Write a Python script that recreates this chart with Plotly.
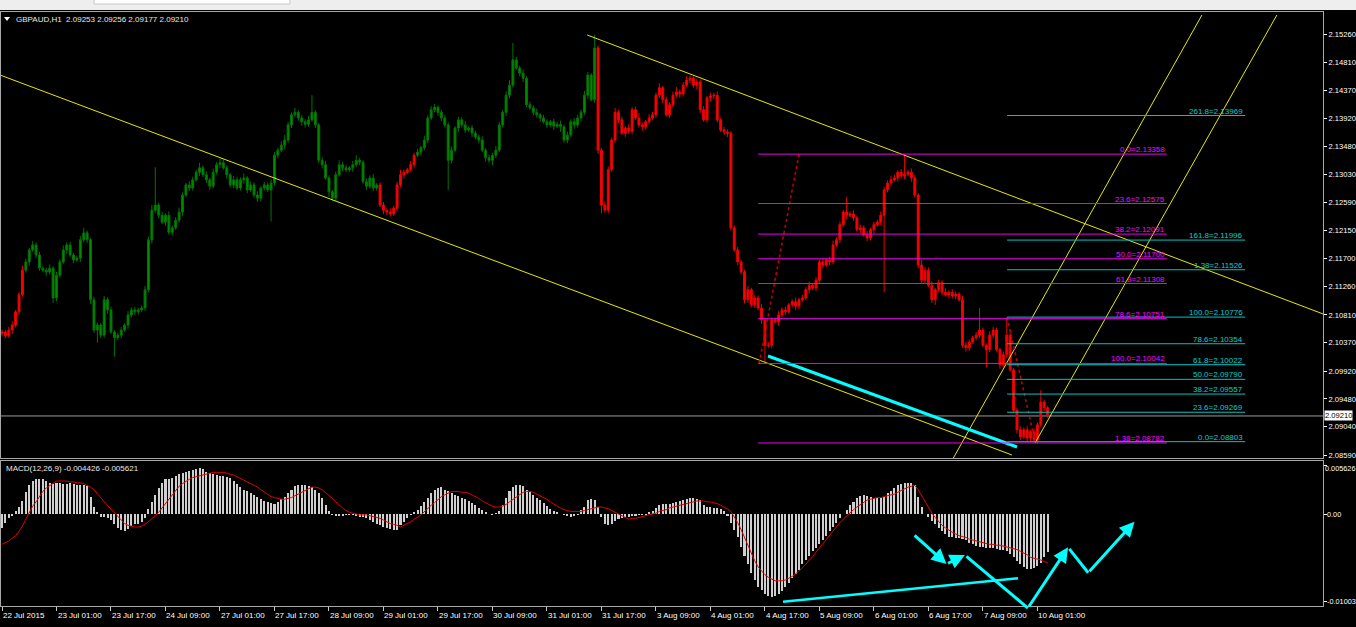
import plotly.graph_objects as go

# ---------------- DATA ----------------
symbol_header = "GBPAUD,H1  2.09253 2.09256 2.09177 2.09210"
macd_header = "MACD(12,26,9) -0.004426 -0.005621"

first_open = 2.1052
closes = [
    2.1054, 2.1048, 2.1057, 2.1065, 2.1086, 2.1113, 2.1152, 2.1165, 2.1184, 2.1192,
    2.1176, 2.1155, 2.1152, 2.1149, 2.1155, 2.1108, 2.1144, 2.1165, 2.1184, 2.1192,
    2.1176, 2.1168, 2.1171, 2.1200, 2.1211, 2.1200, 2.1105, 2.1057, 2.1065, 2.1049,
    2.1105, 2.1089, 2.1054, 2.1045, 2.1049, 2.1057, 2.1065, 2.1081, 2.1089, 2.1086,
    2.1089, 2.1092, 2.1121, 2.1200, 2.1247, 2.1255, 2.1239, 2.1228, 2.1239, 2.1212,
    2.1219, 2.1231, 2.1244, 2.1271, 2.1287, 2.1282, 2.1295, 2.1307, 2.1314, 2.1303,
    2.1295, 2.1285, 2.1307, 2.1319, 2.1322, 2.1314, 2.1303, 2.1287, 2.1295, 2.1282,
    2.1295, 2.1298, 2.1279, 2.1287, 2.1271, 2.1266, 2.1282, 2.1287, 2.1279, 2.1290,
    2.1334, 2.1342, 2.1350, 2.1358, 2.1382, 2.1398, 2.1402, 2.1393, 2.1387, 2.1383,
    2.1390, 2.1402, 2.1382, 2.1326, 2.1319, 2.1298, 2.1276, 2.1266, 2.1303, 2.1319,
    2.1314, 2.1311, 2.1314, 2.1319, 2.1326, 2.1323, 2.1292, 2.1285, 2.1298, 2.1282,
    2.1287, 2.1255, 2.1247, 2.1244, 2.1241, 2.1250, 2.1287, 2.1303, 2.1307, 2.1311,
    2.1319, 2.1334, 2.1339, 2.1346, 2.1358, 2.1393, 2.1406, 2.1410, 2.1402, 2.1393,
    2.1382, 2.1326, 2.1342, 2.1377, 2.1390, 2.1382, 2.1374, 2.1377, 2.1369, 2.1363,
    2.1358, 2.1342, 2.1330, 2.1326, 2.1334, 2.1342, 2.1382, 2.1402, 2.1429, 2.1445,
    2.1485, 2.1472, 2.1464, 2.1456, 2.1414, 2.1409, 2.1402, 2.1398, 2.1393, 2.1387,
    2.1382, 2.1387, 2.1380, 2.1383, 2.1379, 2.1358, 2.1366, 2.1387, 2.1382, 2.1393,
    2.1402, 2.1429, 2.1461, 2.1422, 2.1504, 2.1342, 2.1255, 2.1247, 2.1311, 2.1358,
    2.1402, 2.1390, 2.1369, 2.1377, 2.1372, 2.1406, 2.1393, 2.1382, 2.1379, 2.1387,
    2.1393, 2.1398, 2.1429, 2.1441, 2.1422, 2.1398, 2.1414, 2.1429, 2.1434, 2.1431,
    2.1445, 2.1453, 2.1456, 2.1445, 2.1450, 2.1406, 2.1390, 2.1425, 2.1428, 2.1429,
    2.1390, 2.1374, 2.1371, 2.1369, 2.1219, 2.1184, 2.1165, 2.1149, 2.1105, 2.1121,
    2.1097, 2.1108, 2.1092, 2.1073, 2.1033, 2.1033, 2.1073, 2.1070, 2.1081, 2.1089,
    2.1086, 2.1097, 2.1102, 2.1095, 2.1105, 2.1108, 2.1121, 2.1128, 2.1124, 2.1136,
    2.1165, 2.1160, 2.1168, 2.1165, 2.1192, 2.1200, 2.1224, 2.1244, 2.1239, 2.1241,
    2.1235, 2.1216, 2.1219, 2.1208, 2.1203, 2.1216, 2.1224, 2.1228, 2.1239, 2.1279,
    2.1290, 2.1295, 2.1298, 2.1307, 2.1301, 2.1304, 2.1307, 2.1298, 2.1271, 2.1160,
    2.1136, 2.1152, 2.1128, 2.1105, 2.1121, 2.1132, 2.1117, 2.1113, 2.1117, 2.1111,
    2.1114, 2.1105, 2.1033, 2.1029, 2.1038, 2.1045, 2.1049, 2.1057, 2.1033, 2.1026,
    2.1049, 2.1057, 2.1026, 2.1002, 2.1018, 2.1049, 2.0994, 2.0930, 2.0899, 2.0888,
    2.0899, 2.0886, 2.0896, 2.0883, 2.0907, 2.0943, 2.0934, 2.0921,
]
# upper / lower wick lengths beyond the body, in pips (0.0001)
wick_up_pips = [
    4, 3, 5, 6, 3, 4, 7, 5, 3, 6, 4, 5, 3, 4, 6, 3, 5, 4, 7, 4,
    5, 3, 4, 6, 8, 4, 3, 5, 4, 3, 6, 4, 5, 3, 4, 5, 3, 6, 4, 5,
    3, 4, 6, 5, 8, 60, 4, 5, 3, 6, 4, 5, 7, 4, 3, 6, 5, 4, 8, 4,
    5, 3, 6, 4, 7, 5, 4, 3, 6, 5, 4, 7, 3, 5, 4, 6, 3, 5, 4, 6,
    5, 4, 6, 8, 5, 4, 7, 3, 5, 4, 6, 27, 4, 3, 5, 6, 4, 3, 5, 7,
    4, 5, 3, 6, 8, 4, 3, 5, 4, 6, 3, 4, 5, 3, 6, 4, 5, 8, 4, 3,
    6, 4, 5, 3, 7, 4, 6, 5, 3, 4, 5, 4, 6, 3, 5, 4, 6, 3, 5, 4,
    4, 6, 3, 5, 4, 7, 5, 4, 6, 8, 27, 5, 4, 6, 3, 5, 4, 6, 3, 5,
    4, 3, 5, 4, 6, 3, 5, 4, 6, 5, 4, 7, 5, 3, 21, 4, 3, 6, 5, 4,
    7, 4, 5, 3, 6, 4, 5, 8, 4, 3, 6, 5, 4, 7, 3, 5, 4, 6, 8, 4,
    5, 6, 4, 3, 5, 4, 6, 3, 5, 4, 6, 3, 5, 4, 3, 4, 5, 3, 4, 6,
    3, 5, 4, 6, 3, 5, 4, 3, 6, 4, 5, 3, 4, 6, 3, 5, 4, 6, 3, 5,
    4, 6, 3, 5, 7, 4, 5, 3, 24, 4, 6, 3, 5, 4, 6, 3, 5, 4, 6, 5,
    4, 6, 5, 3, 5, 32, 4, 6, 5, 3, 8, 5, 4, 6, 3, 5, 4, 6, 3, 5,
    4, 3, 6, 5, 4, 3, 5, 35, 4, 3, 6, 5, 4, 3, 5, 28, 6, 3, 4, 5,
    4, 6, 3, 5, 4, 19, 4, 3,
]
wick_dn_pips = [
    5, 4, 3, 6, 4, 5, 3, 4, 6, 3, 5, 4, 3, 6, 4, 8, 5, 4, 3, 6,
    4, 5, 3, 6, 4, 5, 7, 4, 20, 5, 4, 6, 3, 30, 4, 5, 3, 6, 4, 5,
    4, 3, 5, 4, 6, 4, 5, 3, 6, 4, 5, 3, 4, 6, 3, 5, 4, 3, 6, 4,
    5, 6, 3, 4, 5, 3, 6, 4, 5, 3, 4, 6, 5, 3, 4, 6, 5, 4, 3, 50,
    4, 5, 3, 6, 4, 5, 3, 4, 6, 5, 4, 3, 5, 4, 6, 3, 8, 4, 5, 3,
    5, 4, 3, 6, 4, 5, 3, 6, 4, 5, 4, 3, 6, 5, 4, 3, 5, 4, 6, 3,
    4, 5, 3, 6, 4, 5, 3, 4, 6, 5, 4, 47, 5, 3, 6, 4, 5, 3, 6, 4,
    5, 3, 6, 4, 8, 5, 3, 4, 6, 5, 4, 3, 5, 6, 4, 3, 5, 4, 6, 3,
    5, 4, 6, 3, 8, 4, 5, 3, 6, 4, 5, 4, 6, 3, 5, 6, 13, 4, 5, 3,
    4, 5, 3, 6, 4, 5, 3, 4, 6, 5, 4, 3, 5, 4, 6, 3, 5, 4, 3, 6,
    4, 3, 5, 4, 6, 5, 3, 4, 6, 5, 4, 3, 5, 6, 4, 3, 5, 4, 6, 5,
    4, 5, 3, 6, 27, 4, 5, 3, 6, 4, 5, 3, 4, 6, 5, 3, 4, 6, 3, 5,
    4, 5, 3, 6, 4, 3, 5, 4, 6, 3, 5, 4, 6, 3, 5, 4, 6, 3, 5, 122,
    4, 5, 3, 6, 4, 5, 3, 6, 4, 5, 4, 6, 3, 5, 8, 4, 5, 3, 6, 4,
    5, 3, 4, 6, 5, 3, 4, 5, 3, 28, 4, 5, 3, 6, 4, 5, 3, 4, 6, 5,
    4, 6, 5, 3, 6, 4, 5, 3,
]
# MACD main (histogram) and signal, in units of 0.0001
macd_hist_e4 = [
    -16, -10, -5, -2, 3, 8, 15, 25, 33, 38, 40, 40, 40, 38, 36, 35, 36, 36, 35, 35,
    36, 35, 34, 34, 33, 32, 20, 8, 2, -3, -4, -5, -7, -12, -16, -19, -20, -17, -14, -12,
    -11, -9, -5, 6, 14, 22, 30, 36, 40, 40, 41, 44, 46, 47, 49, 50, 51, 52, 53, 52,
    49, 47, 46, 45, 44, 44, 43, 41, 38, 35, 31, 28, 26, 24, 22, 20, 17, 15, 14, 13,
    12, 14, 17, 20, 24, 28, 32, 34, 34, 33, 32, 31, 28, 24, 18, 10, 3, -1, -2, -2,
    -2, -1, -1, -1, -2, -3, -4, -5, -7, -9, -11, -13, -15, -16, -17, -18, -18, -13, -9, -5,
    -1, 2, 5, 9, 14, 19, 24, 28, 30, 31, 28, 26, 24, 22, 21, 19, 17, 15, 13, 10,
    7, 5, 2, 0, -1, 1, 4, 10, 18, 26, 31, 33, 33, 32, 28, 25, 22, 19, 16, 13,
    9, 6, 4, 2, 0, -1, -2, -3, -2, -1, 5, 8, 16, 17, 16, 8, -4, -12, -13, -11,
    -8, -6, -5, -3, -3, -2, -2, -1, -1, -1, 2, 4, 7, 10, 11, 12, 12, 13, 14, 15,
    16, 17, 18, 19, 17, 16, 10, 8, 8, 7, 7, 6, 3, -2, -10, -18, -27, -38, -48, -58,
    -68, -76, -84, -88, -92, -95, -96, -94, -92, -89, -84, -79, -74, -69, -64, -58, -53, -48, -43, -39,
    -35, -30, -25, -20, -15, -10, -5, 0, 5, 10, 14, 18, 21, 22, 21, 20, 19, 19, 19, 20,
    24, 27, 30, 33, 35, 36, 36, 36, 33, 20, 8, 0, -4, -8, -12, -16, -20, -23, -26, -27,
    -28, -28, -29, -30, -33, -35, -37, -38, -38, -39, -39, -39, -40, -41, -42, -43, -46, -50, -54, -58,
    -61, -63, -63, -62, -60, -56, -50, -44,
]
macd_signal_e4 = [
    -35, -33, -31, -28, -25, -20, -14, -6, 2, 9, 14, 20, 26, 30, 33, 36, 38, 38, 38, 38,
    37, 37, 36, 36, 35, 33, 31, 28, 24, 19, 14, 10, 5, 1, -3, -7, -11, -13, -14, -15,
    -15, -14, -12, -9, -6, -2, 2, 7, 12, 18, 23, 28, 32, 35, 38, 40, 42, 43, 44, 45,
    46, 47, 48, 48, 48, 48, 47, 46, 45, 43, 41, 39, 37, 35, 33, 31, 28, 25, 22, 20,
    19, 18, 17, 17, 18, 19, 21, 23, 25, 27, 29, 31, 31, 30, 28, 25, 21, 18, 14, 10,
    7, 4, 2, 1, 0, -1, -1, -1, -2, -3, -4, -5, -7, -9, -11, -12, -13, -15, -13, -11,
    -9, -6, -4, -1, 3, 7, 10, 13, 17, 20, 22, 24, 26, 26, 26, 25, 25, 24, 22, 20,
    18, 15, 13, 11, 9, 8, 8, 9, 11, 14, 17, 20, 23, 25, 26, 26, 25, 23, 21, 19,
    17, 14, 11, 9, 7, 5, 4, 3, 3, 3, 3, 4, 5, 6, 7, 8, 8, 7, 6, 4,
    2, 0, -2, -4, -6, -5, -5, -4, -3, -2, -1, 0, 1, 3, 4, 5, 7, 8, 9, 10,
    11, 12, 13, 14, 15, 15, 15, 14, 14, 13, 12, 10, 8, 6, 3, -3, -10, -18, -27, -37,
    -46, -54, -61, -66, -70, -73, -75, -77, -77, -77, -76, -74, -72, -69, -66, -62, -58, -54, -49, -44,
    -39, -34, -29, -24, -19, -15, -10, -6, -2, 2, 5, 8, 11, 14, 16, 17, 18, 19, 19, 20,
    21, 22, 23, 25, 27, 29, 31, 32, 33, 28, 21, 14, 7, 1, -4, -9, -13, -16, -19, -21,
    -23, -25, -26, -27, -29, -30, -31, -32, -33, -34, -35, -35, -36, -36, -37, -38, -39, -40, -41, -43,
    -45, -47, -50, -51, -52, -53, -55, -56,
]

time_labels = ["22 Jul 2015", "23 Jul 01:00", "23 Jul 17:00", "24 Jul 09:00", "27 Jul 01:00",
               "27 Jul 17:00", "28 Jul 09:00", "29 Jul 01:00", "29 Jul 17:00", "30 Jul 09:00",
               "31 Jul 01:00", "31 Jul 17:00", "3 Aug 09:00", "4 Aug 01:00", "4 Aug 17:00",
               "5 Aug 09:00", "6 Aug 01:00", "6 Aug 17:00", "7 Aug 09:00", "10 Aug 01:00"]
time_label_bars = [0, 16, 32, 48, 64, 80, 96, 112, 128, 144, 160, 176, 192, 208, 224,
                   240, 256, 272, 288, 304]

price_ticks = [2.15260, 2.14810, 2.14370, 2.13920, 2.13480, 2.13030, 2.12590, 2.12150,
               2.11700, 2.11260, 2.10810, 2.10370, 2.09920, 2.09480, 2.09040, 2.08590]
macd_ticks = [0.005626, 0.0, -0.01003]
macd_tick_text = ["0.005626", "0.00", "-0.01003"]
last_price = 2.09210

# candle colour segments (first bar, last bar, colour name)
color_segments = [(0, 6, "red"), (7, 110, "green"), (111, 121, "red"),
                  (122, 174, "green"), (175, 307, "red")]

fib1_levels = [("0.0", 2.13358), ("23.6", 2.12575), ("38.2", 2.12091), ("50.0", 2.11700),
               ("61.8", 2.11308), ("78.6", 2.10751), ("100.0", 2.10042), ("1.38", 2.08782)]
fib1_bars = (222.0, 342.0)
fib1_anchor = [(222.3, 2.10042), (234.0, 2.13358)]

fib2_levels = [("261.8", 2.13969), ("161.8", 2.11996), ("1.38", 2.11526), ("100.0", 2.10776),
               ("78.6", 2.10354), ("61.8", 2.10022), ("50.0", 2.09790), ("38.2", 2.09557),
               ("23.6", 2.09269), ("0.0", 2.08803)]
fib2_bars = (295.1, 365.0)
fib2_anchor = [(295.1, 2.10776), (303.3, 2.08803)]

# trend lines: ((bar, price), (bar, price))
yellow_lines = [((-0.6, 2.14611), (296.5, 2.08592)),
                ((171.8, 2.15245), (387.9, 2.10825)),
                ((279.0, 2.08513), (352.3, 2.15561)),
                ((303.3, 2.08782), (374.3, 2.15561))]
cyan_price_line = ((224.9, 2.10160), (298.0, 2.08718))

# hand-drawn MACD arrows: polyline points (bar, macd) and whether each segment has a head
macd_arrow_pts = [(267.5, -0.00231), (277.3, -0.00576), (282.7, -0.00473), (301.2, -0.01084),
                  (313.0, -0.00384), (318.9, -0.00677), (332.5, -0.00089)]
macd_arrow_heads = [True, True, False, True, False, True]
macd_cyan_line = ((229.3, -0.01011), (298.3, -0.00741))

# ---------------- BUILD ----------------
n = len(closes)
opens = [first_open] + closes[:-1]
highs = [max(o, c) + u * 0.0001 for o, c, u in zip(opens, closes, wick_up_pips)]
lows = [min(o, c) - d * 0.0001 for o, c, d in zip(opens, closes, wick_dn_pips)]
hist = [v * 1e-4 for v in macd_hist_e4]
signal = [v * 1e-4 for v in macd_signal_e4]
bars = list(range(n))

FONT = "Liberation Sans, Arial, sans-serif"
palette = {"green": ("#007400", "#009000"), "red": ("#ee0000", "#ff0000")}

fig = go.Figure()
for cname in ("green", "red"):
    idx = [i for (a, b, c) in color_segments if c == cname for i in range(a, b + 1)]
    line_c, fill_c = palette[cname]
    fig.add_trace(go.Candlestick(
        x=idx, open=[opens[i] for i in idx], high=[highs[i] for i in idx],
        low=[lows[i] for i in idx], close=[closes[i] for i in idx],
        increasing=dict(line=dict(color=line_c, width=1), fillcolor=fill_c),
        decreasing=dict(line=dict(color=line_c, width=1), fillcolor=fill_c),
        whiskerwidth=0, hoverinfo="skip", xaxis="x", yaxis="y"))

fig.add_trace(go.Bar(x=bars, y=hist, width=0.6, marker=dict(color="#cfcfcf", line=dict(width=0)),
                     xaxis="x2", yaxis="y2", hoverinfo="skip"))
fig.add_trace(go.Scatter(x=bars, y=signal, mode="lines", line=dict(color="#e00000", width=1),
                         xaxis="x2", yaxis="y2", hoverinfo="skip"))


def px_x(px):
    return (px - 1) / 1322.0


def px_y(py):
    return (606 - py) / 594.0


shapes = []
annotations = []

# window strip at very top
shapes.append(dict(type="rect", xref="paper", yref="paper", x0=px_x(0), x1=px_x(1356),
                   y0=px_y(10), y1=px_y(0), fillcolor="#eeeeee", line=dict(width=0), layer="below"))
shapes.append(dict(type="rect", xref="paper", yref="paper", x0=px_x(94), x1=px_x(290),
                   y0=px_y(4), y1=px_y(-2), fillcolor="#ffffff", line=dict(color="#c8c8c8", width=1)))

# current price line
shapes.append(dict(type="line", xref="paper", yref="y", x0=0, x1=1, y0=last_price, y1=last_price,
                   line=dict(color="#9a9a9a", width=1), layer="below"))

for (p0, p1) in yellow_lines:
    shapes.append(dict(type="line", xref="x", yref="y", x0=p0[0], y0=p0[1], x1=p1[0], y1=p1[1],
                       line=dict(color="#e8e800", width=1)))
shapes.append(dict(type="line", xref="x", yref="y", x0=cyan_price_line[0][0], y0=cyan_price_line[0][1],
                   x1=cyan_price_line[1][0], y1=cyan_price_line[1][1], line=dict(color="#00ffff", width=3)))

for anchor in (fib1_anchor, fib2_anchor):
    shapes.append(dict(type="line", xref="x", yref="y", x0=anchor[0][0], y0=anchor[0][1],
                       x1=anchor[1][0], y1=anchor[1][1], line=dict(color="#c80000", width=1.5, dash="dot")))

for levels, span, lcol, tcol in ((fib1_levels, fib1_bars, "#ee00ee", "#ff00ff"),
                                 (fib2_levels, fib2_bars, "#00c4c4", "#00d0d0")):
    for name, price in levels:
        shapes.append(dict(type="line", xref="x", yref="y", x0=span[0], x1=span[1], y0=price, y1=price,
                           line=dict(color=lcol, width=1)))
        annotations.append(dict(x=span[1], y=price, xref="x", yref="y", text=f"{name}={price:.5f}",
                                showarrow=False, xanchor="right", yanchor="bottom", yshift=-2,
                                font=dict(family=FONT, size=8, color=tcol)))

# MACD cyan straight line
shapes.append(dict(type="line", xref="x2", yref="y2", x0=macd_cyan_line[0][0], y0=macd_cyan_line[0][1],
                   x1=macd_cyan_line[1][0], y1=macd_cyan_line[1][1], line=dict(color="#00ffff", width=2.5)))

# MACD arrows
for k, head in enumerate(macd_arrow_heads):
    (ax_, ay_), (x_, y_) = macd_arrow_pts[k], macd_arrow_pts[k + 1]
    annotations.append(dict(x=x_, y=y_, ax=ax_, ay=ay_, xref="x2", yref="y2", axref="x2", ayref="y2",
                            text="", showarrow=True, arrowhead=2 if head else 0, arrowsize=1,
                            arrowwidth=3, arrowcolor="#00ffff", standoff=0, startstandoff=0))

# header triangle and texts
shapes.append(dict(type="path", xref="paper", yref="paper",
                   path=f"M {px_x(4)} {px_y(17)} L {px_x(10)} {px_y(17)} L {px_x(7)} {px_y(21)} Z",
                   fillcolor="#ffffff", line=dict(width=0)))
annotations.append(dict(x=px_x(14), y=px_y(19), xref="paper", yref="paper", text=symbol_header,
                        showarrow=False, xanchor="left", yanchor="middle",
                        font=dict(family=FONT, size=8, color="#e8e8e8")))
annotations.append(dict(x=px_x(4), y=px_y(468), xref="paper", yref="paper", text=macd_header,
                        showarrow=False, xanchor="left", yanchor="middle",
                        font=dict(family=FONT, size=8, color="#e8e8e8")))

# time labels (left-aligned at their tick)
for b, lab in zip(time_label_bars, time_labels):
    annotations.append(dict(x=b, y=px_y(615), xref="x2", yref="paper", text=lab, showarrow=False,
                            xanchor="left", yanchor="middle", xshift=-1,
                            font=dict(family=FONT, size=8, color="#ffffff")))

# MACD axis labels (the widest one right-aligned against the window edge so it is not cut)
for val, txt in zip(macd_ticks, macd_tick_text):
    is_top = val == max(macd_ticks)
    annotations.append(dict(x=px_x(1356) if is_top else px_x(1326), y=val, xref="paper", yref="y2",
                            text=txt, showarrow=False, xanchor="right" if is_top else "left",
                            yanchor="middle", borderpad=0, yshift=-3 if is_top else 0,
                            font=dict(family=FONT, size=7.3, color="#ffffff")))

# last price tag on axis
annotations.append(dict(x=1, y=last_price, xref="paper", yref="y", text=f"{last_price:.5f}",
                        showarrow=False, xanchor="left", yanchor="middle", xshift=1,
                        bgcolor="#ffffff", borderpad=0, font=dict(family=FONT, size=7.6, color="#000000")))

x_range = [(1 - 2) / 3.406, (1323 - 2) / 3.406]
axis_common = dict(showgrid=False, zeroline=False, showline=True, mirror=True,
                   linecolor="#a8a8a8", linewidth=1, fixedrange=True, automargin=False)

fig.update_layout(
    width=1356, height=627,
    margin=dict(l=1, r=33, t=12, b=21, autoexpand=False),
    paper_bgcolor="#000000", plot_bgcolor="#000000",
    showlegend=False, hovermode=False, boxgap=0.2, bargap=0,
    xaxis=dict(domain=[0, 1], anchor="y", range=x_range, showticklabels=False, ticks="",
               rangeslider=dict(visible=False), **axis_common),
    xaxis2=dict(domain=[0, 1], anchor="y2", range=x_range, matches="x", tickmode="array",
                tickvals=time_label_bars, ticktext=[""] * len(time_label_bars), ticks="outside",
                ticklen=4, tickcolor="#c8c8c8", rangeslider=dict(visible=False), **axis_common),
    yaxis=dict(domain=[px_y(458), 1], anchor="x", side="right", range=[2.08544, 2.15609],
               tickmode="array", tickvals=price_ticks, ticktext=[f"{v:.5f}" for v in price_ticks],
               ticks="outside", ticklen=3, tickcolor="#ffffff",
               tickfont=dict(family=FONT, size=7.6, color="#ffffff"), **axis_common),
    yaxis2=dict(domain=[0, px_y(461)], anchor="x2", side="right", range=[-0.010606, 0.006110],
                tickmode="array", tickvals=macd_ticks, ticktext=[""] * len(macd_ticks),
                ticks="outside", ticklen=3, tickcolor="#ffffff", **axis_common),
    shapes=shapes, annotations=annotations,
)

fig.write_html(
    "out.html",
    config={"displayModeBar": False},
    post_script="document.body.style.margin='0';document.body.style.padding='0';"
                "document.body.style.overflow='hidden';document.body.style.background='#000';",
)
